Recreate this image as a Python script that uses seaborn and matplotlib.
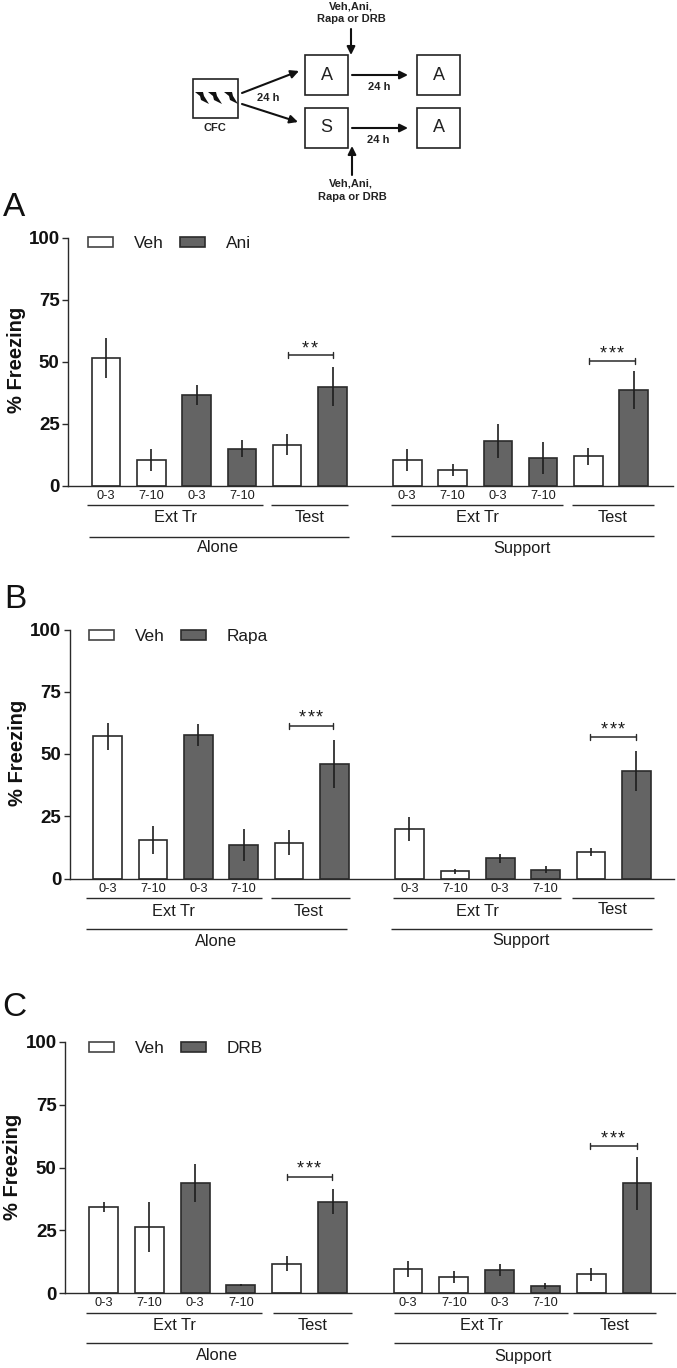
import numpy as np
import pandas as pd
import matplotlib
matplotlib.use("Agg")
import matplotlib.pyplot as plt
import seaborn as sns
from matplotlib.patches import Rectangle, Polygon, Patch

W, H = 677, 1368

# values
phases = ["0-3", "7-10", "0-3", "7-10", "Test", "Test"]
treat_order = ["Veh", "Veh", "Drug", "Drug", "Veh", "Drug"]

ani_alone = [51.3, 10.3, 36.5, 14.8, 16.5, 39.9]
ani_alone_err = [8.1, 4.4, 4.2, 3.5, 4.1, 7.7]
ani_support = [10.2, 6.4, 17.9, 11.0, 11.7, 38.5]
ani_support_err = [4.4, 2.4, 6.8, 6.5, 3.6, 7.7]

rapa_alone = [57.2, 15.4, 57.6, 13.4, 14.4, 46.0]
rapa_alone_err = [5.4, 5.5, 4.4, 6.4, 5.0, 9.8]
rapa_support = [19.8, 2.9, 8.2, 3.6, 10.8, 43.2]
rapa_support_err = [4.9, 1.1, 1.8, 1.5, 1.6, 8.1]

drb_alone = [34.3, 26.3, 43.8, 3.2, 11.7, 36.4]
drb_alone_err = [1.9, 10.1, 7.4, 0.5, 3.1, 5.0]
drb_support = [9.6, 6.4, 9.2, 2.7, 7.4, 43.7]
drb_support_err = [3.2, 2.3, 2.5, 1.2, 2.5, 10.6]

y_ticks = [0, 25, 50, 75, 100]
slots = np.array([0, 1, 2, 3, 4, 5, 6.65, 7.65, 8.65, 9.65, 10.65, 11.65])

WHITE = "#ffffff"
DARK = "#646464"
EDGE = "#2b2b2b"
LINE = "#2a2a2a"
FONT = ["Liberation Sans", "DejaVu Sans"]

sns.set_theme(style="white")
plt.rcParams["font.family"] = FONT

fig = plt.figure(figsize=(W / 100, H / 100), dpi=100, facecolor="white")

# overlay in pixel coordinates for the schematic and the group labels
ov = fig.add_axes([0, 0, 1, 1], zorder=5)
ov.set_xlim(0, W)
ov.set_ylim(H, 0)
ov.axis("off")
ov.patch.set_alpha(0)


def hline(x0, x1, y, lw=1.0, color=LINE):
    ov.plot([x0, x1], [y, y], color=color, lw=lw, solid_capstyle="butt")


def label(x, y, s, size=11.8, **kw):
    ov.text(x, y, s, ha="center", va="center", fontsize=size, color="#1c1c1c", **kw)


def bracket(x0, x1, y, star_x, star_y, stars):
    hline(x0, x1, y, lw=1.1)
    for x in (x0, x1):
        ov.plot([x, x], [y - 3, y + 3], color=LINE, lw=1.0)
    # stars are spaced wider than the font does it
    for i in range(len(stars)):
        sx = star_x + (i - (len(stars) - 1) / 2) * 8.5
        ov.text(sx, star_y, "*", ha="center", va="center", fontsize=13, color="#1c1c1c")


def draw_panel(p):
    df = pd.DataFrame({
        "slot": slots,
        "freezing": p["alone"] + p["support"],
        "err": p["alone_err"] + p["support_err"],
        "treatment": [("Veh" if t == "Veh" else p["drug"]) for t in treat_order] * 2,
    })
    left, right, top, bottom = p["box"]
    ax = fig.add_axes([left / W, 1 - bottom / H, (right - left) / W, (bottom - top) / H])
    ax.patch.set_alpha(0)

    sns.barplot(data=df, x="slot", y="freezing", hue="treatment",
                hue_order=["Veh", p["drug"]], palette=[WHITE, DARK],
                native_scale=True, dodge=False, width=0.63, errorbar=None,
                edgecolor=EDGE, linewidth=1.2, legend=False, ax=ax)
    ax.errorbar(df["slot"], df["freezing"], yerr=df["err"], fmt="none",
                ecolor="#1e1e1e", elinewidth=1.2, capsize=0, clip_on=False, zorder=4)

    first, step = p["first"], p["step"]
    ax.set_xlim((left - first) / step, (right - first) / step)
    ax.set_ylim(0, 100)
    ax.set_yticks(y_ticks)
    ax.set_yticklabels([str(v) for v in y_ticks], fontsize=13.5, fontweight="bold", color="#111111")
    tick_slots = np.r_[slots[:4], slots[6:10]]
    ax.set_xticks(tick_slots)
    ax.set_xticklabels(phases[:4] * 2, fontsize=9.2, color="#1c1c1c")
    ax.tick_params(axis="x", length=0, pad=3)
    ax.tick_params(axis="y", length=4.5, width=1.0, color=LINE, pad=1.5, left=True)
    ax.set_xlabel("")
    ax.set_ylabel("")
    sns.despine(ax=ax)
    for s in ("left", "bottom"):
        ax.spines[s].set_linewidth(1.0)
        ax.spines[s].set_color(LINE)

    ax.legend(handles=[Patch(facecolor=WHITE, edgecolor="#444444", lw=1.2, label="Veh"),
                       Patch(facecolor=DARK, edgecolor=EDGE, lw=1.2, label=p["drug"])],
              loc="upper left", bbox_to_anchor=(p["leg"][0] / W, 1 - p["leg"][1] / H),
              bbox_transform=fig.transFigure, ncol=2, frameon=False, fontsize=12.4,
              handlelength=1.45, handleheight=0.5, handletextpad=1.2,
              columnspacing=0.95, borderpad=0, borderaxespad=0, labelcolor="#1c1c1c")

    ov.text(p["letter"][0], p["letter"][1], p["name"], ha="center", va="center",
            fontsize=24, color="#111111")
    ov.text(p["ylab"][0], p["ylab"][1], "% Freezing", rotation=90, ha="center", va="center",
            fontsize=14.5, fontweight="bold", color="#111111")

    for x0, x1, y in p["rules"]:
        hline(x0, x1, y)
    for x, y, s in p["texts"]:
        label(x, y, s)
    for b in p["brackets"]:
        bracket(*b)


panels = [
    {"name": "A", "drug": "Ani", "alone": ani_alone, "alone_err": ani_alone_err,
     "support": ani_support, "support_err": ani_support_err,
     "box": (68, 673, 237.5, 485.5), "first": 106, "step": 45.3,
     "leg": (88, 236), "letter": (14, 208), "ylab": (17, 360),
     "rules": [(87, 263, 505), (271, 348, 505), (89, 349, 537),
               (391, 563, 505), (572, 654, 505), (391, 654, 536)],
     "texts": [(175, 517, "Ext Tr"), (310, 517, "Test"), (218, 548, "Alone"),
               (477, 517, "Ext Tr"), (613, 517, "Test"), (522, 548, "Support")],
     "brackets": [(288, 333, 355, 310, 349, "**"), (589, 635, 361, 612, 354, "***")]},
    {"name": "B", "drug": "Rapa", "alone": rapa_alone, "alone_err": rapa_alone_err,
     "support": rapa_support, "support_err": rapa_support_err,
     "box": (69.5, 674, 629.5, 878.5), "first": 107.5, "step": 45.4,
     "leg": (89, 629), "letter": (15, 600), "ylab": (18, 753),
     "rules": [(86, 262, 898), (271, 350, 898), (86, 347, 929),
               (393, 561, 898), (572, 654, 898), (391, 652, 929)],
     "texts": [(173, 911, "Ext Tr"), (309, 911, "Test"), (216, 941, "Alone"),
               (477, 911, "Ext Tr"), (613, 910, "Test"), (521, 940, "Support")],
     "brackets": [(289, 333, 726, 311, 718, "***"), (590, 636, 737, 613, 730, "***")]},
    {"name": "C", "drug": "DRB", "alone": drb_alone, "alone_err": drb_alone_err,
     "support": drb_support, "support_err": drb_support_err,
     "box": (65, 675, 1042, 1293), "first": 103.5, "step": 45.8,
     "leg": (89, 1041), "letter": (14, 1007), "ylab": (13, 1167),
     "rules": [(86, 262, 1313), (273, 352, 1313), (86, 348, 1343),
               (394, 568, 1313), (573, 656, 1313), (394, 652, 1343)],
     "texts": [(174, 1325, "Ext Tr"), (313, 1325, "Test"), (217, 1355, "Alone"),
               (481, 1325, "Ext Tr"), (615, 1325, "Test"), (523, 1357, "Support")],
     "brackets": [(287, 332, 1177, 309, 1169, "***"), (590, 637, 1146, 613, 1139, "***")]},
]

for p in panels:
    draw_panel(p)

# schematic at the top
for x0, x1, y0, y1, s in [(193, 238, 79, 118, ""), (305, 348, 55, 95, "A"), (305, 348, 108, 148, "S"),
                          (417, 460, 55, 95, "A"), (417, 460, 108, 148, "A")]:
    ov.add_patch(Rectangle((x0, y0), x1 - x0, y1 - y0, fc="white", ec="#222222", lw=1.2))
    if s:
        ov.text((x0 + x1) / 2, (y0 + y1) / 2, s, ha="center", va="center", fontsize=13, color="#222222")

for x0, y0, x1, y1 in [(242, 93, 299, 71), (242, 104, 298, 122), (352, 75, 408, 75),
                       (352, 128, 408, 128), (351, 29, 351, 55), (352, 175, 352, 146)]:
    ov.annotate("", xy=(x1, y1), xytext=(x0, y0),
                arrowprops=dict(arrowstyle="-|>,head_width=0.2,head_length=0.4", color="#111111",
                                lw=1.5, shrinkA=0, shrinkB=0))

for cx in (202, 215, 231):
    bolt = np.array([[-7, -6], [1, -6], [2, -2], [7, 6], [-1, 2], [-2, -2]]) + [cx, 98]
    ov.add_patch(Polygon(bolt, fc="#111111", ec="none"))

for x, y, s in [(268, 98, "24 h"), (379, 87, "24 h"), (378, 140, "24 h"), (215, 128, "CFC"),
                (351, 6.5, "Veh,Ani,"), (351, 19, "Rapa or DRB"),
                (351, 184, "Veh,Ani,"), (352, 197, "Rapa or DRB")]:
    ov.text(x, y, s, ha="center", va="center", fontsize=8, fontweight="bold", color="#222222")

fig.savefig("out.png", dpi=100)
